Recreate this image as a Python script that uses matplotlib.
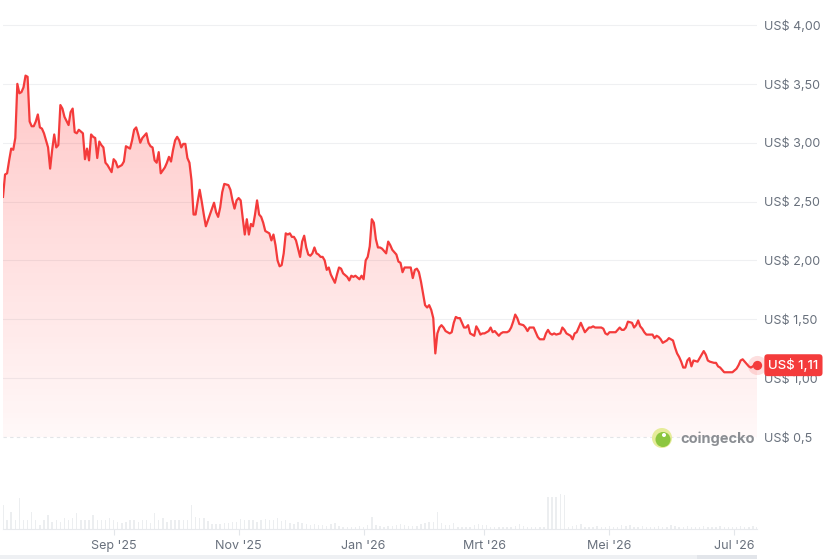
import numpy as np
import pandas as pd
import matplotlib
matplotlib.use("Agg")
import matplotlib.pyplot as plt
import matplotlib.dates as mdates
from matplotlib.patches import Polygon, Circle, Rectangle

plt.rcParams['font.family'] = ['Inter', 'DejaVu Sans']

# price data (days since start, price in US$)
start_date = '2025-07-09'
price_days = [0, 1, 2, 3, 4, 5, 6, 7, 8, 9, 10, 11, 12, 13, 14, 15, 16, 17, 18, 19, 20,
              22, 23, 24, 25, 26, 27, 28, 29, 30, 32, 33, 34, 35, 36, 37,
              39, 40, 41, 42, 43, 44, 45, 46, 47, 48, 49, 50, 51, 53, 54, 55, 56, 58, 59, 60, 62,
              63, 64, 65, 66, 67, 68, 70, 71, 72, 73, 74, 75, 76, 77, 79, 80, 81, 82, 83, 84,
              85, 86, 87, 88, 89, 90, 91, 92, 93, 94, 95, 96, 97, 98, 99, 100, 101, 103, 104,
              105, 106, 107, 108, 110, 111, 112, 113, 114, 115, 116, 117, 118, 119, 120, 121,
              122, 123, 124, 125, 126, 127, 128,
              130, 131, 132, 133, 134, 135, 136, 137, 138, 139, 140, 141, 142, 143, 145, 146,
              147, 148, 149, 150, 151, 152, 153, 154, 155, 156, 157, 158, 159, 160, 162, 163,
              164, 165, 166, 168, 169, 170, 171, 172, 174, 175, 176, 177, 178, 179, 180, 181,
              182, 183, 184, 185, 187, 188, 189, 190, 191, 192, 193, 194, 195, 196, 197, 198,
              199, 200, 201, 202, 203, 204, 205, 206, 207, 208, 209, 210, 211, 212,
              213, 214, 215, 216, 218, 219, 220, 221, 222, 223, 224, 225, 226, 227, 228, 230,
              231, 232, 233, 234, 235, 237, 238, 239, 240, 241, 242, 243, 244, 246, 247, 248,
              249, 250, 251, 252, 254, 255, 256, 257, 258, 259, 261, 262, 263, 264, 265, 266,
              267, 268, 269, 270, 272, 273, 274, 275, 276, 277, 278, 279, 280, 281, 282, 283,
              284, 286, 287, 288, 289, 290, 292, 293, 294, 295, 296, 297, 299, 300, 301, 302,
              303, 304, 305, 307, 308, 309, 310, 311, 312, 313, 314, 316, 317, 318, 319, 320,
              321, 322, 323, 324, 325, 327, 328, 329, 330, 331, 332, 333, 334, 335, 336, 337,
              339, 340, 341, 342, 343, 344, 345, 347, 348, 349, 350, 352, 353, 354, 355, 356,
              358, 359, 360, 361, 362, 364, 365, 366, 367, 368]
prices = [2.54, 2.73, 2.74, 2.85, 2.95, 2.94, 3.04, 3.50, 3.42, 3.43, 3.47, 3.57, 3.56, 3.18, 3.14, 3.14, 3.18, 3.24, 3.13, 3.12, 3.08,
          2.96, 2.78, 2.94, 3.07, 2.96, 2.98, 3.32, 3.29, 3.22, 3.15, 3.26, 3.29, 3.09, 3.08, 3.11,
          3.08, 2.86, 2.95, 2.85, 3.07, 3.05, 3.04, 2.87, 3.01, 2.98, 2.96, 2.83, 2.81, 2.75, 2.86, 2.84, 2.79, 2.81, 2.84, 2.97, 2.95,
          3.02, 3.11, 3.13, 3.07, 3.00, 3.04, 3.08, 3.00, 2.97, 2.96, 2.85, 2.83, 2.92, 2.74, 2.79, 2.83, 2.88, 2.84, 2.94, 3.02,
          3.05, 3.02, 2.96, 2.99, 2.99, 2.87, 2.83, 2.68, 2.39, 2.39, 2.50, 2.60, 2.50, 2.39, 2.29, 2.34, 2.39, 2.49, 2.41,
          2.37, 2.45, 2.58, 2.65, 2.64, 2.60, 2.51, 2.44, 2.51, 2.53, 2.51, 2.36, 2.22, 2.35, 2.22, 2.31,
          2.29, 2.39, 2.51, 2.39, 2.37, 2.32, 2.25,
          2.23, 2.17, 2.22, 2.13, 2.00, 1.95, 1.96, 2.06, 2.23, 2.22, 2.23, 2.20, 2.20, 2.17, 2.03, 2.16,
          2.21, 2.11, 2.05, 2.04, 2.06, 2.11, 2.06, 2.05, 2.03, 2.03, 2.00, 1.92, 1.94, 1.88, 1.81, 1.88,
          1.94, 1.93, 1.89, 1.86, 1.83, 1.87, 1.86, 1.87, 1.84, 1.87, 1.84, 2.00, 2.03, 2.12, 2.35, 2.32,
          2.18, 2.11, 2.11, 2.10, 2.06, 2.16, 2.13, 2.09, 2.07, 2.05, 1.99, 1.98, 1.90, 1.94, 1.94, 1.94,
          1.94, 1.85, 1.92, 1.93, 1.90, 1.82, 1.72, 1.62, 1.60, 1.62, 1.58, 1.51, 1.21, 1.38,
          1.43, 1.45, 1.43, 1.40, 1.38, 1.39, 1.47, 1.52, 1.51, 1.51, 1.47, 1.43, 1.43, 1.45, 1.38, 1.36,
          1.44, 1.41, 1.37, 1.38, 1.38, 1.40, 1.43, 1.39, 1.40, 1.38, 1.36, 1.38, 1.39, 1.39, 1.40, 1.43,
          1.48, 1.54, 1.51, 1.46, 1.45, 1.43, 1.40, 1.43, 1.43, 1.43, 1.35, 1.33, 1.33, 1.33, 1.38, 1.41,
          1.38, 1.37, 1.38, 1.37, 1.38, 1.43, 1.41, 1.38, 1.37, 1.36, 1.33, 1.38, 1.39, 1.43, 1.47, 1.43,
          1.39, 1.43, 1.43, 1.44, 1.43, 1.43, 1.43, 1.42, 1.38, 1.37, 1.39, 1.39, 1.39, 1.41, 1.43, 1.41,
          1.41, 1.43, 1.48, 1.47, 1.43, 1.45, 1.49, 1.44, 1.42, 1.39, 1.37, 1.37, 1.37, 1.34, 1.36, 1.35,
          1.33, 1.30, 1.31, 1.32, 1.34, 1.32, 1.26, 1.21, 1.18, 1.14, 1.09, 1.09, 1.15, 1.17, 1.10, 1.15,
          1.14, 1.17, 1.20, 1.23, 1.20, 1.15, 1.14, 1.13, 1.13, 1.10, 1.09, 1.05, 1.05, 1.05, 1.05, 1.05,
          1.08, 1.11, 1.15, 1.16, 1.14, 1.10, 1.09, 1.10, 1.12, 1.11]

# volume (relative bar heights), one reading every 2 days
volume_step = 2
volumes = [24, 9, 17, 9, 31, 9, 9, 17, 9, 4, 9, 14, 7, 9, 7, 11, 9, 11, 16, 9,
           9, 9, 14, 9, 9, 9, 11, 9, 7, 6, 7, 9, 9, 7, 9, 9, 6, 16, 9, 11,
           7, 9, 9, 9, 9, 9, 24, 12, 11, 11, 8, 5, 5, 5, 6, 6, 7, 7, 10, 9,
           9, 9, 7, 9, 10, 9, 9, 11, 8, 9, 6, 5, 7, 6, 5, 4, 5, 4, 4, 3,
           5, 6, 3, 2, 2, 2, 2, 3, 2, 4, 12, 4, 3, 2, 3, 3, 4, 5, 4, 3,
           3, 3, 5, 6, 7, 7, 17, 6, 4, 4, 6, 2, 2, 2, 2, 4, 5, 4, 4, 2,
           2, 2, 2, 2, 2, 3, 5, 3, 2, 2, 2, 2, 2, 32, 32, 32, 35, 34, 2, 3,
           4, 5, 2, 2, 2, 3, 2, 2, 3, 2, 2, 4, 3, 4, 2, 2, 3, 2, 2, 2,
           3, 2, 2, 4, 3, 2, 2, 3, 2, 2, 2, 3, 2, 2, 2, 3, 2, 2, 2, 2,
           3, 2, 2, 3, 2]

y_ticks = [0.5, 1.0, 1.5, 2.0, 2.5, 3.0, 3.5, 4.0]
y_labels = ['US$ 0,5', 'US$ 1,00', 'US$ 1,50', 'US$ 2,00', 'US$ 2,50',
            'US$ 3,00', 'US$ 3,50', 'US$ 4,00']
month_ticks = ['2025-09-01', '2025-11-01', '2026-01-01', '2026-03-01', '2026-05-01', '2026-07-01']
month_labels = ["Sep '25", "Nov '25", "Jan '26", "Mrt '26", "Mei '26", "Jul '26"]
last_label = 'US$ 1,11'

assert len(price_days) == len(prices)

RED = '#f43b3b'
GREY = '#68707c'
W, H = 835, 559

t0 = pd.Timestamp(start_date)
x = mdates.date2num(t0 + pd.to_timedelta(price_days, unit='D'))
y = np.array(prices)
vx = mdates.date2num(t0 + pd.to_timedelta(np.arange(len(volumes)) * volume_step, unit='D'))
x0, x1 = x[0], x[-1]

fig = plt.figure(figsize=(W / 100, H / 100), dpi=100)
fig.patch.set_facecolor('white')

# price axes
ax = fig.add_axes([3 / W, (H - 445) / H, 754 / W, 430 / H])
for v in y_ticks[1:]:
    ax.axhline(v, color='#eff0f2', lw=0.8, zorder=0)
ax.axhline(0.5, color='#e3e5e8', lw=0.8, ls=(0, (3, 3)), zorder=0)

# gradient fill under the line
poly = Polygon([(x0, 0.5)] + list(zip(x, y)) + [(x1, 0.5)], closed=True,
               facecolor='none', edgecolor='none')
ax.add_patch(poly)
alpha = np.linspace(0.035, 0.28, 256)
grad = np.zeros((256, 1, 4))
grad[:, 0, 0] = 1.0
grad[:, 0, 1] = 0.23
grad[:, 0, 2] = 0.23
grad[:, 0, 3] = alpha
ax.imshow(grad, extent=[x0, x1, 0.5, 3.6], origin='lower', aspect='auto',
          clip_path=poly, zorder=1, interpolation='bilinear')

ax.plot(x, y, color=RED, lw=1.6, zorder=3, solid_joinstyle='round')
ax.scatter([x[-1]], [y[-1]], s=190, color=RED, alpha=0.16, lw=0, zorder=4, clip_on=False)
ax.scatter([x[-1]], [y[-1]], s=45, color=RED, lw=0, zorder=5, clip_on=False)

ax.set_xlim(x0, x1)
ax.set_ylim(0.5 - 8 / 117.7, 4 + 10 / 117.7)
ax.yaxis.tick_right()
ax.set_yticks(y_ticks)
ax.set_yticklabels(y_labels)
ax.tick_params(axis='y', length=0, pad=5, labelsize=9, labelcolor=GREY)
ax.set_xticks([])
for s in ax.spines.values():
    s.set_visible(False)

ax.text(1.0150, y[-1], last_label, transform=ax.get_yaxis_transform(),
        ha='left', va='center', color='white', fontsize=9.5, fontweight='medium',
        bbox=dict(boxstyle='round,pad=0.3,rounding_size=0.25', fc=RED, ec='none'),
        zorder=10, clip_on=False)

# volume axes
vax = fig.add_axes([3 / W, (H - 529) / H, 754 / W, 41 / H])
vax.bar(vx, volumes, width=0.7, color='#eceef0', lw=0)
vax.set_xlim(x0, x1)
vax.set_ylim(0, 41)
vax.set_yticks([])
vax.set_xticks(mdates.date2num(pd.to_datetime(month_ticks)))
vax.set_xticklabels(month_labels)
vax.tick_params(axis='x', length=4, color='#e3e6ea', labelsize=9, labelcolor=GREY, pad=4)
for k, s in vax.spines.items():
    s.set_visible(k == 'bottom')
vax.spines['bottom'].set_color('#e8eaed')
vax.patch.set_alpha(0)

# overlay in pixel coordinates for the logo and navigator strip
ov = fig.add_axes([0, 0, 1, 1])
ov.set_xlim(0, W)
ov.set_ylim(H, 0)
ov.axis('off')
ov.patch.set_alpha(0)
ov.add_patch(Rectangle((0, 555), 757, 4, color='#eef0f3', lw=0))
ov.add_patch(Rectangle((697, 555), 60, 4, color='#e2e5ea', lw=0))
ov.add_patch(Circle((662, 438), 10, color='#e6ec9a', lw=0))
ov.add_patch(Circle((663, 439.5), 7.5, color='#8cc63f', lw=0))
ov.add_patch(Circle((664, 435), 2, color='white', lw=0))
ov.text(680, 438.5, 'coingecko', ha='left', va='center', fontsize=10.5,
        fontweight='bold', color='#8b8e93')

fig.savefig('out.png', dpi=100)
